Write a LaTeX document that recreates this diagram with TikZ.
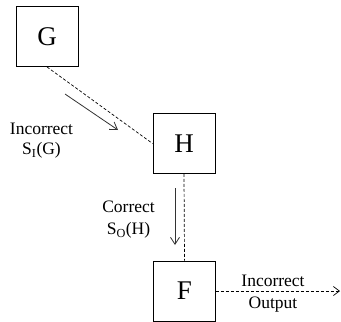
\documentclass[tikz,border=0pt]{standalone}
\usepackage{fontspec}
\setmainfont{Liberation Serif}
\usetikzlibrary{arrows.meta}
\begin{document}
\begin{tikzpicture}[x=1pt,y=-1pt,
  blk/.style={draw,line width=0.9pt,minimum width=62pt,minimum height=60pt,inner sep=0pt,font=\fontsize{27}{30}\selectfont},
  lbl/.style={font=\fontsize{17.5}{21}\selectfont,align=center,inner sep=0pt},
  flow/.style={densely dashed,line width=0.7pt},
  sig/.style={line width=0.8pt,gray!40!black,-{Straight Barb[length=7pt,width=9pt]}}]
\useasboundingbox (0,0) rectangle (341,322);
\node[blk] (G) at (47,36.5) {G};
\node[blk] (H) at (184,143.5) {H};
\node[blk] (F) at (184.5,291) {F};
\coordinate (out) at (340,291);
\draw[flow] (G.south) -- (H.west);
\draw[flow] (H.south) -- (F.north);
\draw[flow,-{Straight Barb[length=6pt,width=9pt]}] (F.east) -- (out);
% signal arrows
\coordinate (a1) at (65,94);
\coordinate (a2) at (118,130);
\draw[sig] (a1) -- (a2);
\coordinate (b1) at (175,188);
\coordinate (b2) at (175,245);
\draw[sig] (b1) -- (b2);
\node[lbl] (l1) at (41.5,141) {Incorrect\\[-1pt]S\textsubscript{I}(G)};
\node[lbl] (l2) at (128.5,220) {Correct\\[1pt]S\textsubscript{O}(H)};
\node[lbl] (l3) at (273,294) {Incorrect\\[1pt]Output};
\end{tikzpicture}
\end{document}
